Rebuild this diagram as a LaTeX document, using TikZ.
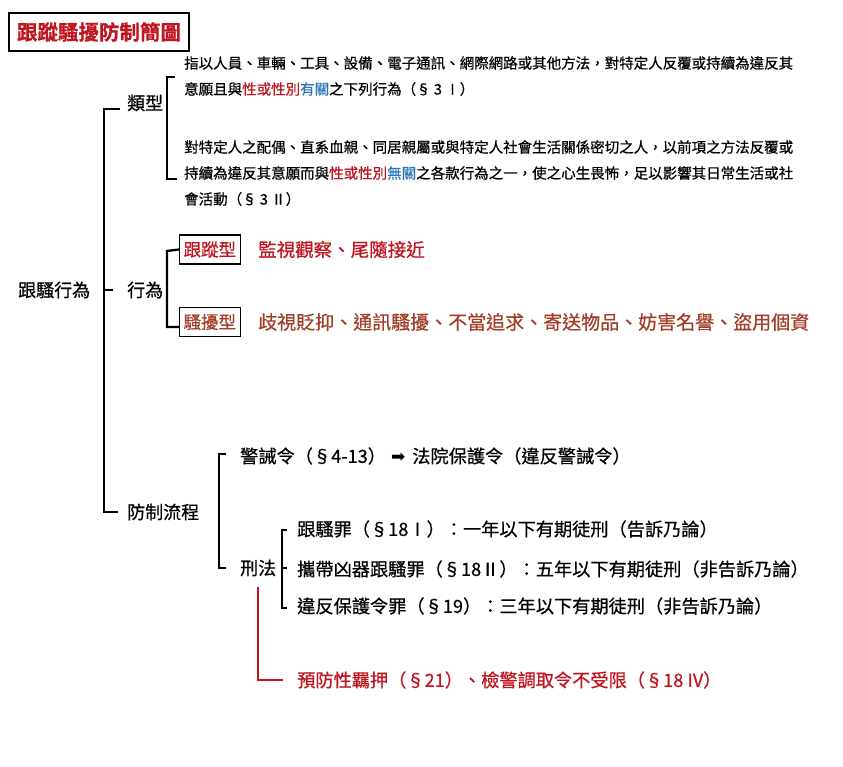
\documentclass[tikz,border=0pt]{standalone}
\usepackage{fontspec}
\setmainfont{Noto Sans CJK TC}[BoldFont={Noto Sans CJK TC Bold}, FakeBold=0.6]
\newfontfamily\sym{DejaVu Sans}
\definecolor{dred}{RGB}{192,20,30}
\definecolor{brn}{RGB}{160,62,40}
\definecolor{blu}{RGB}{46,117,182}
\tikzset{lb/.style = {anchor=west, inner sep=0pt, font=\fontsize{18}{20}\selectfont},
         pa/.style = {anchor=west, inner sep=0pt, font=\fontsize{14.5}{16}\selectfont},
         ln/.style = {anchor=west, inner sep=0pt, font=\fontsize{18.2}{20}\selectfont},
         bx/.style = {anchor=west, draw, line width=1.1pt, inner sep=4pt, minimum height=29pt, font=\fontsize{17.5}{20}\selectfont},
         br/.style = {line width=2.3pt}}
\begin{document}
\begin{tikzpicture}[x=1pt, y=-1pt]
    \useasboundingbox (0,0) rectangle (843,767);
    \node[draw, line width=1.2pt, minimum width=180pt, minimum height=38pt, inner sep=0pt,
          text=dred, font=\fontsize{20.5}{22}\selectfont\bfseries] (ttl) at (99,32) {跟蹤騷擾防制簡圖};
    \node[lb] (root) at (18,290) {跟騷行為};
    \node[lb] (typ) at (127,103) {類型};
    \node[lb] (act) at (127,290) {行為};
    \node[lb] (prv) at (127,512) {防制流程};
    % types
    \node[pa] (p1) at (184,63) {指以人員、車輛、工具、設備、電子通訊、網際網路或其他方法，對特定人反覆或持續為違反其};
    \node[pa] (p2) at (184,89) {意願且與\textcolor{dred}{性或性別}\textcolor{blu}{有關}之下列行為（§ 3 Ⅰ）};
    \node[pa] (p3) at (184,147) {對特定人之配偶、直系血親、同居親屬或與特定人社會生活關係密切之人，以前項之方法反覆或};
    \node[pa] (p4) at (184,173) {持續為違反其意願而與\textcolor{dred}{性或性別}\textcolor{blu}{無關}之各款行為之一，使之心生畏怖，足以影響其日常生活或社};
    \node[pa] (p5) at (184,199) {會活動（§ 3 Ⅱ）};
    % acts
    \node[bx, text=dred] (fol) at (179,249.5) {跟蹤型};
    \node[bx, text=brn] (har) at (179,322) {騷擾型};
    \node[lb, text=dred, font=\fontsize{18.5}{20}\selectfont] (fold) at (258,249.5) {監視觀察、尾隨接近};
    \node[lb, text=brn, font=\fontsize{19}{20}\selectfont] (hard) at (258,322) {歧視貶抑、通訊騷擾、不當追求、寄送物品、妨害名譽、盜用個資};
    % prevention
    \node[ln] (wrn) at (240,456) {警誡令（§4-13）\hspace{5pt}{\sym\fontsize{17}{18}\selectfont ➡}\hspace{7pt}法院保護令（違反警誡令）};
    \node[lb] (crm) at (240,568) {刑法};
    \node[ln] (c1) at (297,529) {跟騷罪（§18Ⅰ）：一年以下有期徒刑（告訴乃論）};
    \node[ln] (c2) at (297,569) {攜帶凶器跟騷罪（§18Ⅱ）：五年以下有期徒刑（非告訴乃論）};
    \node[ln] (c3) at (297,606) {違反保護令罪（§19）：三年以下有期徒刑（非告訴乃論）};
    \node[ln, text=dred] (det) at (297,680) {預防性羈押（§21）、檢警調取令不受限（§18 IV）};
    % brackets
    \draw[br] (120,109) -- (104,109) -- (104,512) -- (118,512);
    \draw[br] (104,290) -- (113,290);
    \draw[br] (175,77) -- (167,77) -- (167,179) -- (177,179);
    \draw[br] (fol.west) -- (167,251) -- (167,327) -- (har.west |- 0,327);
    \draw[br] (226,454) -- (219,454) -- (219,568) -- (226,568);
    \draw[br] (287,530) -- (282,530) -- (282,608) -- (287,608);
    \draw[br] (282,568) -- (287,568);
    \draw[br, dred, line width=2pt] (258,587) -- (258,680) -- (283,680);
\end{tikzpicture}
\end{document}
